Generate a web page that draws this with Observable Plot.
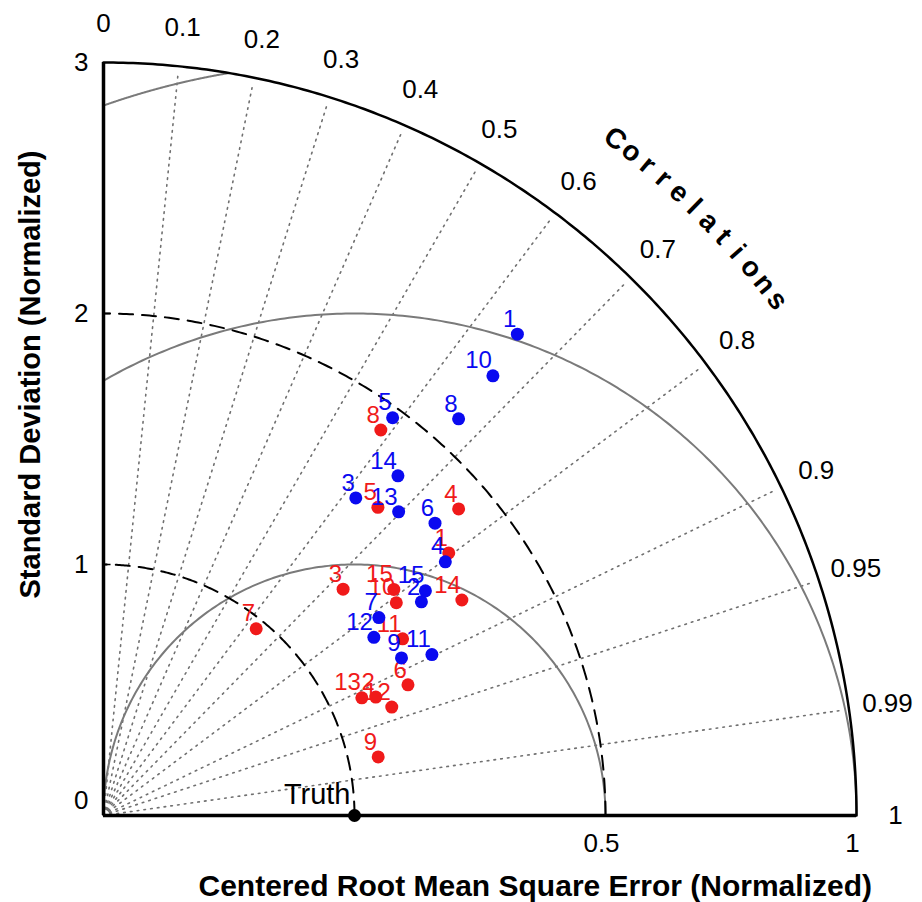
<!DOCTYPE html>
<html><head><meta charset="utf-8">
<script src="https://cdn.jsdelivr.net/npm/d3@7"></script>
<script src="https://cdn.jsdelivr.net/npm/@observablehq/plot@0.6"></script>
<style>body{margin:0;background:#fff;}</style>
</head><body><div id="chart"></div>
<script>
// ---- data ----
const models = [1,2,3,4,5,6,7,8,9,10,11,12,13,14,15];
const blueStd  = [2.529,1.526,1.616,1.696,1.959,1.761,1.351,2.121,1.343,2.340,1.457,1.290,1.687,1.791,1.564];
const blueCorr = [0.652,0.830,0.622,0.803,0.588,0.750,0.812,0.667,0.884,0.663,0.898,0.835,0.697,0.655,0.820];
const redStd   = [1.728,1.183,1.313,1.869,1.644,1.320,0.961,1.892,1.119,1.442,1.384,1.227,1.131,1.666,1.466];
const redCorr  = [0.796,0.917,0.727,0.757,0.665,0.919,0.633,0.584,0.978,0.809,0.861,0.936,0.910,0.857,0.789];
const refStd = 1;
const maxStd = 3;
const corrTicks = [0,0.1,0.2,0.3,0.4,0.5,0.6,0.7,0.8,0.9,0.95,0.99,1];
const corrTickLabels = ["0","0.1","0.2","0.3","0.4","0.5","0.6","0.7","0.8","0.9","0.95","0.99","1"];
const corrRays = [0.1,0.2,0.3,0.4,0.5,0.6,0.7,0.8,0.9,0.95,0.99];
const stdTicks = [0,1,2,3];
const stdTickLabels = ["0","1","2","3"];
const rmsTickAt = [2,3];
const rmsTickLabels = ["0.5","1"];
const stdCircles = [1,2];
const rmsCircles = [1,2,3];
const axisTitleX = "Centered Root Mean Square Error (Normalized)";
const axisTitleY = "Standard Deviation (Normalized)";
const corrTitle = "Correlations";
const refLabel = "Truth";

// ---- helpers ----
const font = "'Liberation Sans', Arial, sans-serif";
const toXY = (s, c) => ({x: s * c, y: s * Math.sqrt(Math.max(0, 1 - c * c))});
const pts = (stds, corrs) => models.map((m, i) => ({m: String(m), ...toXY(stds[i], corrs[i])}));
const blue = pts(blueStd, blueCorr);
const red = pts(redStd, redCorr);

function arc(cx, r, t0, t1, key, n = 240) {
  const out = [];
  for (let i = 0; i <= n; i++) {
    const t = t0 + (t1 - t0) * i / n;
    out.push({x: cx + r * Math.cos(t), y: r * Math.sin(t), k: key});
  }
  return out;
}
// gray RMS circles centred on the reference, clipped to the quadrant and outer arc
const grayArcs = rmsCircles.flatMap(r => {
  let tmax = Math.PI;
  if (refStd - r < 0) tmax = Math.acos(-refStd / r);
  let tmin = 0;
  if ((refStd + r) > maxStd) tmin = Math.acos((maxStd * maxStd - refStd * refStd - r * r) / (2 * refStd * r));
  return arc(refStd, r, tmin, tmax, "g" + r);
});
const dashArcs = stdCircles.flatMap(r => arc(0, r, 0, Math.PI / 2, "d" + r));
const outerArc = arc(0, maxStd, 0, Math.PI / 2, "o");
const rays = corrRays.flatMap(c => [{x: 0, y: 0, k: c}, {...toXY(maxStd * 0.99, c), k: c}]);
const corrLabels = corrTicks.map((c, i) => ({...toXY(3.155, c), t: corrTickLabels[i]}));
const letters = corrTitle.split("").map((ch, i, a) => {
  const th = (52.9 - (52.9 - 37.4) * i / (a.length - 1)) * Math.PI / 180;
  return {x: 3.38 * Math.cos(th), y: 3.38 * Math.sin(th), t: ch, rot: 90 - th * 180 / Math.PI};
});
const stdLab = stdTicks.map((v, i) => ({y: v, t: stdTickLabels[i]}));
const rmsLab = rmsTickAt.map((v, i) => ({x: v, t: rmsTickLabels[i]}));

const blueC = "#0a0af0", redC = "#f01a1a";

const chart = Plot.plot({
  width: 922, height: 902,
  marginLeft: 103, marginRight: 66, marginTop: 62, marginBottom: 87,
  x: {domain: [0, 3], axis: null},
  y: {domain: [0, 3], axis: null},
  style: {fontFamily: font, background: "#fff", overflow: "visible", color: "#000"},
  marks: [
    Plot.line(rays, {x: "x", y: "y", z: "k", stroke: "#707070", strokeWidth: 1.6, strokeDasharray: "1.6,5.2"}),
    Plot.line(grayArcs, {x: "x", y: "y", z: "k", stroke: "#7a7a7a", strokeWidth: 2}),
    Plot.line(dashArcs, {x: "x", y: "y", z: "k", stroke: "#000", strokeWidth: 2, strokeDasharray: "14,9"}),
    Plot.line(outerArc, {x: "x", y: "y", z: "k", stroke: "#000", strokeWidth: 2.5}),
    Plot.ruleX([0], {y1: 0, y2: 3, stroke: "#000", strokeWidth: 3.5}),
    Plot.ruleY([0], {x1: 0, x2: 3, stroke: "#000", strokeWidth: 3.5}),
    Plot.ruleY([1, 2], {x1: 0, x2: 0.03, stroke: "#000", strokeWidth: 1.5}),
    // tick labels
    Plot.text(stdLab.filter(d => d.y > 0), {x: 0, y: "y", text: "t", textAnchor: "end", dx: -15, fontSize: 26}),
    Plot.text(stdLab.filter(d => d.y === 0), {x: 0, y: "y", text: "t", textAnchor: "end", dx: -15, dy: -15, fontSize: 26}),
    Plot.text(rmsLab, {x: "x", y: 0, text: "t", dy: 28, dx: -4, fontSize: 26}),
    Plot.text(corrLabels, {x: "x", y: "y", text: "t", fontSize: 26}),
    Plot.text(letters, {x: "x", y: "y", text: "t", rotate: "rot", fontSize: 28, fontWeight: "bold"}),
    // axis titles
    Plot.text([{x: 1.72, y: -0.283, t: axisTitleX}], {x: "x", y: "y", text: "t", fontSize: 30, fontWeight: "bold"}),
    Plot.text([{x: -0.29, y: 1.757, t: axisTitleY}], {x: "x", y: "y", text: "t", rotate: -90, fontSize: 29, fontWeight: "bold"}),
    // models
    Plot.dot(red, {x: "x", y: "y", r: 6.5, fill: redC}),
    Plot.text(red, {x: "x", y: "y", text: "m", fill: redC, textAnchor: "end", dx: -1, dy: -15, fontSize: 24}),
    Plot.dot(blue, {x: "x", y: "y", r: 6.5, fill: blueC}),
    Plot.text(blue, {x: "x", y: "y", text: "m", fill: blueC, textAnchor: "end", dx: -1, dy: -15, fontSize: 24}),
    // reference
    Plot.dot([{x: refStd, y: 0}], {x: "x", y: "y", r: 6.5, fill: "#000"}),
    Plot.text([{x: refStd, y: 0, t: refLabel}], {x: "x", y: "y", text: "t", textAnchor: "end", dx: -4, dy: -21, fontSize: 29})
  ]
});
document.getElementById("chart").appendChild(chart);
</script>
</body></html>
